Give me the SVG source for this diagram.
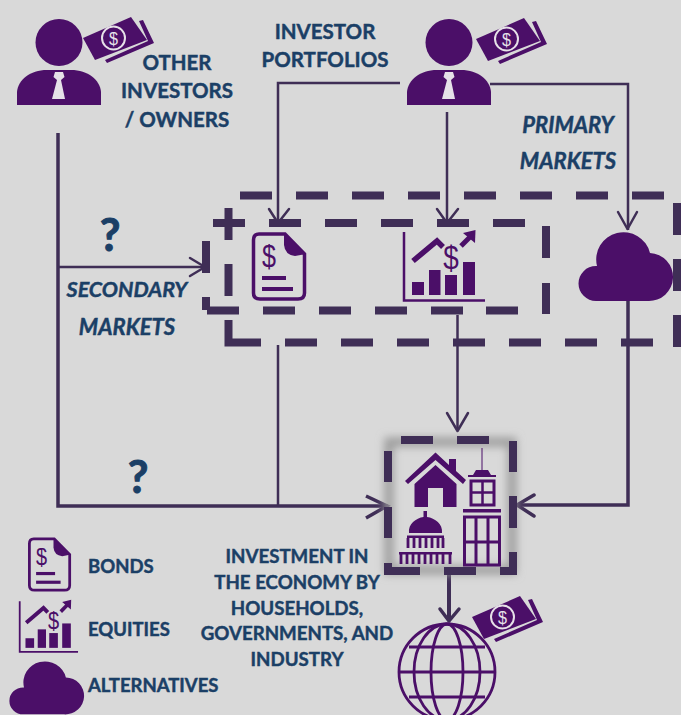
<svg xmlns="http://www.w3.org/2000/svg" xmlns:xlink="http://www.w3.org/1999/xlink" width="681" height="715" viewBox="0 0 681 715">
<style>
.t{font-family:Lato,"Liberation Sans",sans-serif;font-weight:700;fill:#1b3f66;stroke:#1b3f66;stroke-width:.45;text-anchor:middle}
.big{font-size:20.500px}.mid{font-size:18.700px}
.it{font-style:italic;font-size:22px}
.leg{text-anchor:start;font-size:18.500px}
.q{font-size:45px;stroke-width:1}
.d{stroke:#3f2e56;stroke-width:8;fill:none}
.c{stroke:#3f2e56;stroke-width:2.5;fill:none}
.c3{stroke:#3f2e56;stroke-width:3.5;fill:none}
.h{stroke:#3f2e56;stroke-width:3.5;fill:none;stroke-linecap:round;stroke-linejoin:round}
.p{fill:#4b0f68}
.l{stroke:#4b0f68;fill:none}
.g{font-family:"Liberation Sans",sans-serif;text-anchor:middle;fill:#4b0f68}
</style>
<defs>
<filter id="blur" x="-20%" y="-20%" width="140%" height="140%"><feGaussianBlur stdDeviation="4"/></filter>
<g id="person">
<circle class="p" cx="59" cy="42.500" r="23.500"/>
<path class="p" d="M17 105V92C18 80 30 70 47 70H71C88 70 100 80 101 92V105Z"/>
<path fill="#e6e1e8" d="M55 72H63L64.500 77L61 80L65 99H52L57 80L53.500 77Z"/>
</g>
<g id="money">
<path class="p" d="M83 38L131 17L147 40L95 60Z"/>
<path class="p" d="M139 21L143 20L154 43L107 63L105 60L148 41Z"/>
<circle cx="113.500" cy="38" r="11.500" fill="none" stroke="#e6e1e8" stroke-width="2"/>
<text x="113.500" y="44.500" text-anchor="middle" font-family="Liberation Sans,sans-serif" font-size="18" fill="#e6e1e8" textLength="9" lengthAdjust="spacingAndGlyphs">$</text>
</g>
<g id="doc">
<path class="l" stroke-width="3.500" d="M259 234H285L304.500 254V293Q304.500 299 298 299H260Q253.500 299 253.500 293V240Q253.500 234 259 234Z"/>
<path class="p" d="M284 233L306 254L295 256Q285 255 284 245Z"/>
<text class="g" x="269" y="267" font-size="31" textLength="14" lengthAdjust="spacingAndGlyphs">$</text>
<rect class="p" x="262" y="276" width="24" height="4"/>
<rect class="p" x="262" y="287" width="31" height="4"/>
</g>
<g id="eq">
<path class="l" stroke-width="2.500" d="M404 232V300.500H485"/>
<rect class="p" x="412" y="282" width="12" height="13"/>
<rect class="p" x="429" y="270" width="11.500" height="25"/>
<rect class="p" x="445" y="275" width="12" height="20"/>
<rect class="p" x="463" y="262" width="12" height="33"/>
<path class="l" stroke-width="5.500" d="M413 261L437 241L443 247"/>
<path class="l" stroke-width="5" d="M461 246L471 236"/>
<path class="p" d="M463 233L475.500 230L475 243Z"/>
<text class="g" x="451" y="269" font-size="33" textLength="15.500" lengthAdjust="spacingAndGlyphs">$</text>
</g>
<path id="cloud" class="p" d="M596 301A17.500 17.500 0 0 1 596 266H597A27 27 0 0 1 650 253A24 24 0 0 1 648 301Z"/>
</defs>
<rect width="681" height="715" fill="#d9d9d9"/>

<g id="connectors">
<path class="c3" d="M58 133V506H388"/>
<path class="c" d="M58 267H205"/>
<path class="h" style="stroke-width:2.500" d="M190 258L205 267L190 276"/>
<path class="c" d="M278 345V506"/>
<path class="c3" d="M366 496L387 506L366 518"/>
<path class="c" d="M400 83H278V225"/>
<path class="h" style="stroke-width:2.500" d="M269 209L278 223L289 209"/>
<path class="c" d="M447 112V225"/>
<path class="h" style="stroke-width:2.500" d="M437 209L447 223L458 209"/>
<path class="c" d="M490 84H628V230"/>
<path class="h" style="stroke-width:2.500" d="M618 212L627.500 229L637 212"/>
<path class="c" d="M457.500 315V430"/>
<path class="h" style="stroke-width:2.500" d="M447 413L457.500 431L468 413"/>
<path class="c3" d="M628 300V505H517"/>
<path class="h" d="M534 495L517 505L534 516"/>
<path class="c" style="stroke-width:4" d="M449 575V620"/>
<path class="h" d="M440 609L449 621L459 609"/>
</g>

<g id="market-frames">
<path class="d" d="M240 195.500H272M296 195.500H328M352 195.500H384M408 195.500H440M464 195.500H496M520 195.500H552M576 195.500H608M632 195.500H664"/>
<path class="d" d="M677 203V235M677 259V291M677 315V347"/>
<path class="d" d="M228.500 208V240M228.500 264V296M228.500 320V342.500H261M285 342.500H317M341 342.500H373M397 342.500H429M453 342.500H485M509 342.500H541M565 342.500H597M621 342.500H653"/>
<path class="d" d="M213 223H245M269 223H301M325 223H357M381 223H413M437 223H469M493 223H525"/>
<path class="d" d="M546 226V258M546 283V314M486 310.500H518"/>
<path class="d" d="M207 310.500H239M263 310.500H295M319 310.500H351M375 310.500H407M431 310.500H463M206 241V273M206 297V310"/>
</g>

<g id="person-other"><use xlink:href="#person" href="#person"/><use xlink:href="#money" href="#money"/></g>
<g id="person-investor"><use xlink:href="#person" href="#person" x="390"/><use xlink:href="#money" href="#money" x="393" y="1"/></g>
<g id="label-other">
<text class="t big" x="177" y="70">OTHER</text>
<text class="t big" x="177" y="98">INVESTORS</text>
<text class="t big" x="177" y="127">/ OWNERS</text>
</g>
<g id="label-portfolios">
<text class="t big" x="325" y="39">INVESTOR</text>
<text class="t big" x="325" y="67">PORTFOLIOS</text>
</g>
<g id="label-primary">
<text class="t it" x="568" y="133">PRIMARY</text>
<text class="t it" x="568" y="169">MARKETS</text>
</g>
<g id="label-secondary">
<text class="t it" x="127" y="297" style="font-size:21.500px">SECONDARY</text>
<text class="t it" x="127" y="335">MARKETS</text>
</g>
<text class="t q" x="110" y="251">?</text>
<text class="t q" x="138" y="493">?</text>

<g id="bonds"><use xlink:href="#doc" href="#doc"/></g>
<g id="equities"><use xlink:href="#eq" href="#eq"/></g>
<g id="alternatives"><use xlink:href="#cloud" href="#cloud"/></g>

<g id="economy">
<rect x="389" y="442" width="123" height="128" fill="none" stroke="#9c9c9c" stroke-width="9" filter="url(#blur)"/>
<path class="d" d="M401 440H433M457 440H489M513 441V472M513 496V528M513 552V571H500M476 571H444M420 571H388V563M388 538V507M388 482V451"/>
<path class="p" d="M405 481L435.500 452.500L449 465V459H456V471L466 480L463 484L435.500 460L408 484Z"/>
<path class="p" d="M414.500 484L435.500 465L456.500 484V507H443V488H428V507H414.500Z"/>
<path class="p" d="M409 533C408 524 416 518 423.500 517V511H427V517C435 518 443 524 442 533Z"/>
<rect class="p" x="407" y="535.500" width="37" height="2.500"/>
<path class="l" stroke-width="2.800" d="M408 538V548M414 538V548M420 538V548M426 538V548M432 538V548M438 538V548M443 538V548"/>
<rect class="p" x="399" y="552" width="53" height="2.500"/>
<path class="l" stroke-width="2.800" d="M401 554V564M407 554V564M413 554V564M419 554V564M425 554V564M431 554V564M437 554V564M443 554V564M450 554V564"/>
<path class="l" stroke="#5b4a6e" stroke-width="1" d="M482 448V471"/>
<path class="p" d="M476 470H488L491 475H496V477H468V475H473Z"/>
<rect class="l" stroke-width="3" x="471" y="481" width="23" height="24"/>
<path class="l" stroke-width="2.500" d="M482.500 481V505M471 492.500H494"/>
<rect class="p" x="463" y="509" width="38" height="3.500"/>
<rect class="l" stroke-width="3" x="464.500" y="517" width="35" height="48"/>
<path class="l" stroke-width="3" d="M476 517V565M488 517V565M464 542H500"/>
</g>

<g id="world">
<circle class="l" stroke-width="2.800" cx="447" cy="672" r="48"/>
<ellipse class="l" stroke-width="2.800" cx="447" cy="672" rx="16" ry="48"/>
<ellipse class="l" stroke-width="2.800" cx="447" cy="672" rx="33" ry="48"/>
<path class="l" stroke-width="2.800" d="M409 647H485M399 672H495M409 697H485"/>
<use xlink:href="#money" href="#money" x="389" y="579"/>
</g>
<g id="label-economy">
<text class="t mid" x="297" y="563">INVESTMENT IN</text>
<text class="t mid" x="297" y="589">THE ECONOMY BY</text>
<text class="t mid" x="297" y="615">HOUSEHOLDS,</text>
<text class="t mid" x="297" y="640">GOVERNMENTS, AND</text>
<text class="t mid" x="297" y="666">INDUSTRY</text>
</g>

<g id="legend-bonds">
<use xlink:href="#doc" href="#doc" transform="translate(29 538) scale(.79) translate(-253 -233)"/>
<text class="t leg" x="88" y="573">BONDS</text>
</g>
<g id="legend-equities">
<use xlink:href="#eq" href="#eq" transform="translate(19 600.500) scale(.72 .74) translate(-403 -231)"/>
<text class="t leg" x="88" y="636">EQUITIES</text>
</g>
<g id="legend-alternatives">
<use xlink:href="#cloud" href="#cloud" transform="translate(9 662) scale(.79 .77) translate(-578 -233)"/>
<text class="t leg" x="88" y="692">ALTERNATIVES</text>
</g>
</svg>
